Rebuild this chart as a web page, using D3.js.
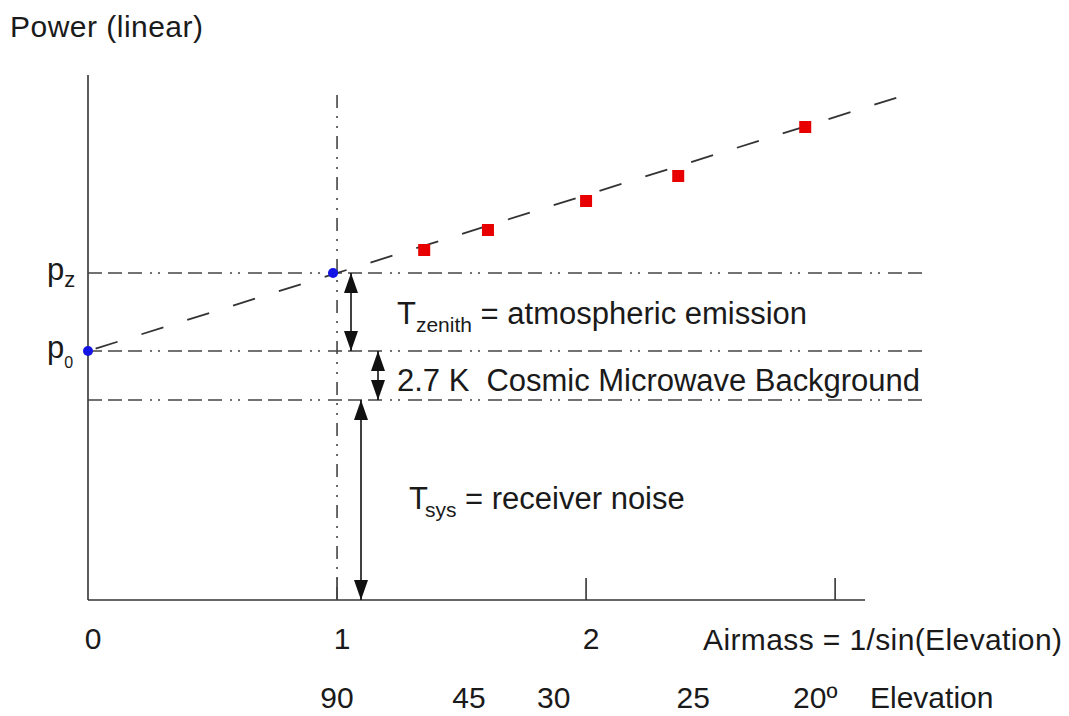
<!DOCTYPE html>
<html><head><meta charset="utf-8">
<script src="https://cdn.jsdelivr.net/npm/d3@7"></script>
<style>body{margin:0;background:#fff}text{font-family:"Liberation Sans",Arial,sans-serif;fill:#1a1a1a}</style>
</head><body><svg id="c" width="1069" height="716"></svg>
<script>
// ---- data ----
const airmassTicks = [0, 1, 2, 3];
const airmassTickLabels = ["0", "1", "2", ""];
const elevationLabels = ["90", "45", "30", "25", "20º"];
const elevationLabelPos = [1.0, 1.53, 1.87, 2.43, 2.92];   // airmass position of label centre
const measAirmass = [1.35, 1.606, 2.0, 2.37, 2.88];       // red squares
const measPower = [7.0, 7.4, 7.98, 8.48, 9.46];
const p0 = 4.98, pz = 6.54, cmbLevel = 4.0;
const fitEndAirmass = 3.33;

const svg = d3.select("#c");
const x = d3.scaleLinear().domain([0, 3.12]).range([88, 865]);
const y = d3.scaleLinear().domain([0, 10.5]).range([600, 75]);
const ink = "#333";
const FS = 30;

const defs = svg.append("defs");
defs.append("marker").attr("id","ah").attr("viewBox","0 0 20 14").attr("refX",20).attr("refY",7)
  .attr("markerWidth",20).attr("markerHeight",14).attr("markerUnits","userSpaceOnUse").attr("orient","auto-start-reverse")
  .append("path").attr("d","M0,0 L20,7 L0,14 Z").attr("fill","#111");

// axes lines
svg.append("line").attr("x1",x(0)).attr("x2",x(0)).attr("y1",y(10.5)).attr("y2",y(0)).attr("stroke",ink).attr("stroke-width",1.6);
svg.append("line").attr("x1",x(0)).attr("x2",x(3.12)).attr("y1",y(0)).attr("y2",y(0)).attr("stroke",ink).attr("stroke-width",1.6);
airmassTicks.slice(1).forEach(t=>{
  svg.append("line").attr("x1",x(t)).attr("x2",x(t)).attr("y1",y(0)).attr("y2",y(0)-22).attr("stroke",ink).attr("stroke-width",1.6);
});
airmassTicks.forEach((t,i)=>{
  svg.append("text").attr("x",x(t)+5).attr("y",649).attr("text-anchor","middle").attr("font-size",FS).text(airmassTickLabels[i]);
});
svg.append("text").attr("x",703).attr("y",650).attr("font-size",FS).attr("textLength",359).text("Airmass = 1/sin(Elevation)");
elevationLabels.forEach((l,i)=>{
  svg.append("text").attr("x",x(elevationLabelPos[i])).attr("y",708).attr("text-anchor","middle")
    .attr("font-size",FS).text(l);
});
svg.append("text").attr("x",870).attr("y",708).attr("font-size",FS).text("Elevation");
svg.append("text").attr("x",10).attr("y",37).attr("font-size",FS).attr("textLength",193).text("Power (linear)");

// dash-dot-dot horizontals
const hd = "14,6,14,6,14,8,2,6,2,8";
[pz, p0, cmbLevel].forEach(v=>{
  svg.append("line").attr("x1",x(0)).attr("x2",925).attr("y1",y(v)).attr("y2",y(v))
    .attr("stroke","#444").attr("stroke-width",1.6).attr("stroke-dasharray",hd);
});
// vertical dash-dot-dot at airmass 1
svg.append("line").attr("x1",x(1)).attr("x2",x(1)).attr("y1",95).attr("y2",y(0))
  .attr("stroke","#444").attr("stroke-width",1.6).attr("stroke-dasharray","13,8,2,8,2,8");

// fit line
const slope = pz - p0;
svg.append("line").attr("x1",x(0)).attr("y1",y(p0)).attr("x2",x(fitEndAirmass)).attr("y2",y(p0+slope*fitEndAirmass))
  .attr("stroke","#333").attr("stroke-width",1.8).attr("stroke-dasharray","23,25").attr("stroke-dashoffset",-8);

// measurement squares
svg.selectAll("rect.m").data(measAirmass).enter().append("rect")
  .attr("x",(d)=>x(d)-6).attr("y",(d,i)=>y(measPower[i])-6).attr("width",12).attr("height",12).attr("fill","#e80000");
// blue dots
[[0,p0],[1,pz]].forEach(([a,p])=>{
  svg.append("circle").attr("cx",x(a)+(a==1?-4:0)).attr("cy",y(p)).attr("r",5).attr("fill","#1414e6");
});

// arrows (double-headed)
function darrow(xx, v1, v2){
  svg.append("line").attr("x1",xx).attr("x2",xx).attr("y1",y(v1)).attr("y2",y(v2))
    .attr("stroke","#111").attr("stroke-width",1.6).attr("marker-start","url(#ah)").attr("marker-end","url(#ah)");
}
darrow(351, pz, p0);
darrow(378, p0, cmbLevel);
darrow(361, cmbLevel, 0);

// labels
const t1 = svg.append("text").attr("x",397).attr("y",324).attr("font-size",31);
t1.append("tspan").text("T");
t1.append("tspan").attr("font-size",21).attr("dy",8).text("zenith");
t1.append("tspan").attr("dy",-8).text(" = atmospheric emission");
svg.append("text").attr("x",397).attr("y",391).attr("font-size",31).attr("textLength",523).attr("xml:space","preserve").text("2.7 K  Cosmic Microwave Background");
const t3 = svg.append("text").attr("x",409).attr("y",509).attr("font-size",31);
t3.append("tspan").text("T");
t3.append("tspan").attr("font-size",21).attr("dy",8).attr("dx",-3).text("sys");
t3.append("tspan").attr("dy",-8).text(" = receiver noise");

const pzl = svg.append("text").attr("x",47).attr("y",280).attr("font-size",31);
pzl.append("tspan").text("p");
pzl.append("tspan").attr("font-size",22).attr("dy",7).text("z");
const p0l = svg.append("text").attr("x",47).attr("y",358).attr("font-size",31);
p0l.append("tspan").text("p");
p0l.append("tspan").attr("font-size",16).attr("dy",10).text("0");
</script></body></html>
